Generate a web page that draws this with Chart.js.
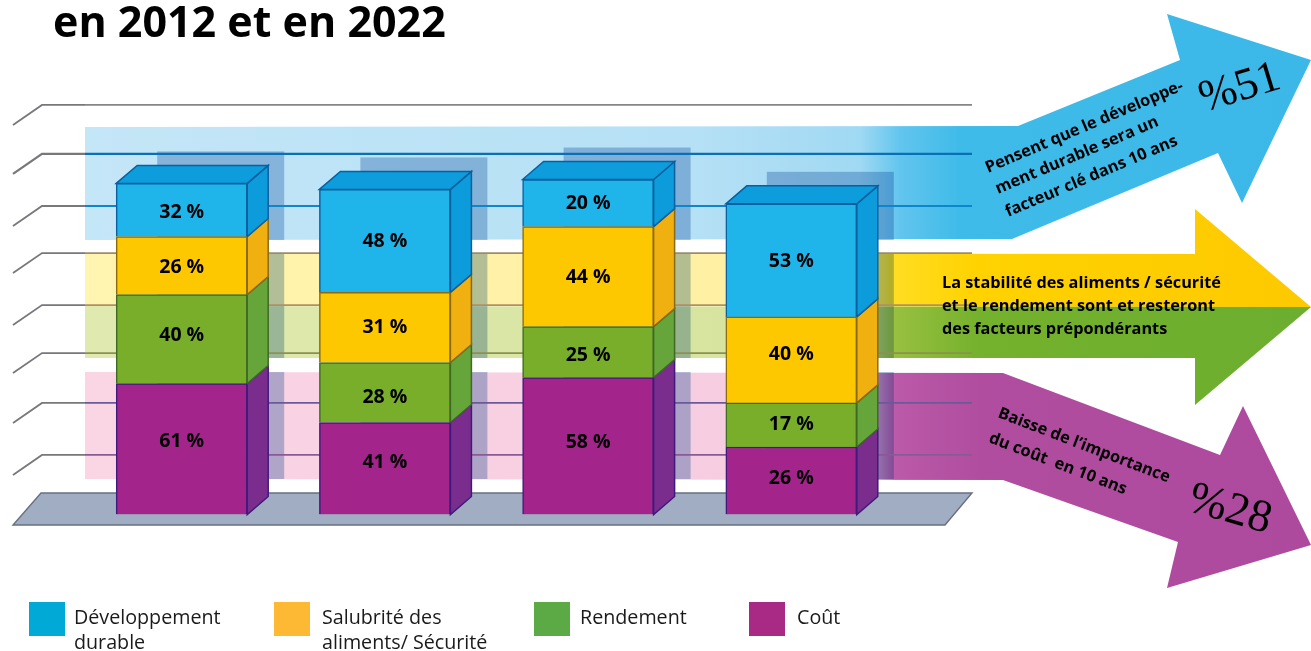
<!DOCTYPE html>
<html>
<head>
<meta charset="utf-8">
<style>
  html, body { margin: 0; padding: 0; background: #fff; overflow: hidden; }
  canvas { display: block; }
</style>
<script src="https://cdn.jsdelivr.net/npm/chart.js@4"></script>
</head>
<body>
<canvas id="chart" width="1311" height="651"></canvas>
<script>
var categories = ["A", "B", "C", "D"];

// printed percentages
var coutLabels = [61, 41, 58, 26];
var rendementLabels = [40, 28, 25, 17];
var salubriteLabels = [26, 31, 44, 40];
var durableLabels = [32, 48, 20, 53];

// segment heights as drawn in the picture (they don't follow the printed numbers exactly)
var coutHeights = [60.9, 42.8, 63.7, 31.4];
var rendementHeights = [41.4, 27.9, 23.7, 20.5];
var salubriteHeights = [27, 32.6, 46.5, 40];
var durableHeights = [24.7, 47.9, 21.9, 52.6];

var gridLevels = [27.7, 51.9, 75.1, 97.4, 121.6, 143.5, 167.7, 190.5];
var gridTints = ["#8a5a96", "#6a5a9a", "#8c9050", "#b09060", "#9a8c70", "#0d86cc", "#0b6fb4", "#85858a"];

var serieNames = ["Coût", "Rendement", "Salubrité des aliments/ Sécurité", "Développement durable"];

var sideColors = ["#7b2d8e", "#66a539", "#f0b010", "#0c9bdb"];
var FONT = '"Open Sans", sans-serif';
var DX = 21, DY = 18;

// the printed numbers are not quite centred in their segments
var labelNudge = [
  [-7.25, -6, -3.5, -2.5],
  [-4, 4.5, 3, -0.5],
  [2, -0.5, 0.5, -5.5],
  [2, 1, 0, 1]
];

function poly(ctx, pts) {
  ctx.beginPath();
  ctx.moveTo(pts[0][0], pts[0][1]);
  for (var i = 1; i < pts.length; i++) ctx.lineTo(pts[i][0], pts[i][1]);
  ctx.closePath();
}

function hGrad(ctx, stops) {
  var g = ctx.createLinearGradient(85, 0, 1311, 0);
  stops.forEach(function(s) { g.addColorStop((s[0] - 85) / 1226, s[1]); });
  return g;
}

function text(ctx, str, x, y, font, angle, color) {
  ctx.save();
  ctx.translate(x, y);
  ctx.rotate((angle || 0) * Math.PI / 180);
  ctx.font = font;
  ctx.fillStyle = color || "#000";
  ctx.textAlign = "left";
  ctx.textBaseline = "alphabetic";
  ctx.fillText(str, 0, 0);
  ctx.restore();
}

// pale bands, arrows, grid and floor behind the bars
var backdrop = {
  id: "backdrop",
  beforeDatasetsDraw: function(chart) {
    var ctx = chart.ctx, y = chart.scales.y;
    ctx.save();

    // blue arrow
    poly(ctx, [[85,127],[1018,126],[1180,60],[1167,14],[1311,60],[1242,203],[1218,153],[1012,239],[85,240]]);
    ctx.fillStyle = hGrad(ctx, [[85,"#c4e6f7"],[700,"#b5e0f5"],[860,"#a0d9f3"],[900,"#62c5ee"],[960,"#3fbbe9"],[1311,"#3bb8e8"]]);
    ctx.fill();

    // yellow / green arrow, split at the tip
    ctx.fillStyle = hGrad(ctx, [[85,"#fff4b0"],[860,"#fff0a0"],[895,"#ffdd22"],[980,"#ffd200"],[1311,"#fdc900"]]);
    poly(ctx, [[85,253],[1195,254],[1195,209],[1311,307],[85,306]]);
    ctx.fill();
    ctx.fillStyle = hGrad(ctx, [[85,"#e0eab0"],[860,"#d5e39c"],[895,"#98c040"],[980,"#74b12c"],[1311,"#6cae30"]]);
    poly(ctx, [[85,306],[1311,307],[1195,405],[1195,358],[85,358]]);
    ctx.fill();

    // purple arrow
    poly(ctx, [[85,372],[1003,373],[1220,455],[1243,406],[1311,545],[1167,588],[1178,542],[1003,480],[85,479]]);
    ctx.fillStyle = hGrad(ctx, [[85,"#fad6e4"],[860,"#f6cbe0"],[895,"#bb5aa8"],[980,"#b04d9f"],[1311,"#ad4a9e"]]);
    ctx.fill();

    // darker column behind each bar, only where a band runs
    var top = chart.getDatasetMeta(3).data;
    ctx.globalCompositeOperation = "multiply";
    ctx.fillStyle = "rgb(178,200,225)";
    top.forEach(function(bar) {
      var left = bar.x - bar.width / 2 + 41, colTop = bar.y - 32;
      [[127, 240], [253, 358], [372, 479]].forEach(function(b) {
        var t = Math.max(b[0], colTop);
        ctx.fillRect(left, t, 127, b[1] - t);
      });
    });
    ctx.globalCompositeOperation = "source-over";

    // grid lines, taken from the y scale
    y.ticks.forEach(function(tick, i) {
      var py = y.getPixelForValue(tick.value);
      ctx.lineWidth = i === 6 ? 2.2 : 1.8;
      ctx.strokeStyle = "#77777c";
      ctx.beginPath();
      ctx.moveTo(13, py + 20);
      ctx.lineTo(42, py);
      ctx.lineTo(85, py);
      ctx.stroke();
      ctx.strokeStyle = gridTints[i];
      ctx.beginPath();
      ctx.moveTo(85, py);
      ctx.lineTo(972, py);
      ctx.stroke();
    });

    // floor
    poly(ctx, [[41,493],[972,493],[945,525],[13,525]]);
    ctx.fillStyle = "#a0adc2";
    ctx.fill();
    ctx.strokeStyle = "#667080";
    ctx.lineWidth = 1.4;
    ctx.stroke();

    // side and top faces of the bars
    chart.data.datasets.forEach(function(ds, d) {
      chart.getDatasetMeta(d).data.forEach(function(bar) {
        var r = bar.x + bar.width / 2, l = bar.x - bar.width / 2;
        poly(ctx, [[r, bar.y], [r + DX, bar.y - DY], [r + DX, bar.base - DY], [r, bar.base]]);
        ctx.fillStyle = sideColors[d];
        ctx.fill();
        ctx.strokeStyle = ds.borderColor;
        ctx.lineWidth = 1.5;
        ctx.stroke();
        if (d === 3) {
          poly(ctx, [[l, bar.y], [l + DX, bar.y - DY], [r + DX, bar.y - DY], [r, bar.y]]);
          ctx.fillStyle = "#0d9ddc";
          ctx.fill();
          ctx.strokeStyle = "#0a5f9e";
          ctx.stroke();
        }
      });
    });
    ctx.restore();
  }
};

// percentages on the bars, plus all the loose text
var annotations = {
  id: "annotations",
  afterDatasetsDraw: function(chart) {
    var ctx = chart.ctx;
    var printed = [coutLabels, rendementLabels, salubriteLabels, durableLabels];
    ctx.save();
    printed.forEach(function(vals, d) {
      chart.getDatasetMeta(d).data.forEach(function(bar, i) {
        ctx.font = "bold 19.5px " + FONT;
        ctx.fillStyle = "#000";
        ctx.textAlign = "center";
        ctx.textBaseline = "middle";
        ctx.fillText(vals[i] + " %", bar.x, (bar.y + bar.base) / 2 + labelNudge[d][i]);
      });
    });
    ctx.restore();

    text(ctx, "en 2012 et en 2022", 53, 37, "bold 43px " + FONT);

    var b16 = "bold 16.3px " + FONT;
    text(ctx, "Pensent que le développe-", 988, 173, b16, -23);
    text(ctx, "ment durable sera un", 998, 194, b16, -23);
    text(ctx, "facteur clé dans 10 ans", 1008, 217, b16, -23);
    text(ctx, "%51", 1204, 112, '45px "Liberation Serif", serif', -17);

    text(ctx, "La stabilité des aliments / sécurité", 942, 288, b16);
    text(ctx, "et le rendement sont et resteront", 942, 311, b16);
    text(ctx, "des facteurs prépondérants", 942, 334, b16);

    text(ctx, "Baisse de l’importance", 997, 417, b16, 21);
    text(ctx, "du coût  en 10 ans", 988, 442, b16, 21);
    text(ctx, "%28", 1186, 510, '46px "Liberation Serif", serif', 16);

    // legend
    var leg = [
      [29, "#00a9d6", 74, ["Développement", "durable"]],
      [274, "#fdb933", 322, ["Salubrité des", "aliments/ Sécurité"]],
      [534, "#5baa46", 580, ["Rendement"]],
      [749, "#a92a85", 797, ["Coût"]]
    ];
    leg.forEach(function(it) {
      ctx.fillStyle = it[1];
      ctx.fillRect(it[0], 602, 36, 34);
      it[3].forEach(function(line, i) {
        text(ctx, line, it[2], 624 + i * 25, "19.7px " + FONT, 0, "#1a1a1a");
      });
    });
  }
};

new Chart(document.getElementById("chart").getContext("2d"), {
  type: "bar",
  data: {
    labels: categories,
    datasets: [
      { label: serieNames[0], data: coutHeights, backgroundColor: "#a3258c", borderColor: "#3f1a7c" },
      { label: serieNames[1], data: rendementHeights, backgroundColor: "#78ae2a", borderColor: "#3f6a25" },
      { label: serieNames[2], data: salubriteHeights, backgroundColor: "#fdc800", borderColor: "#8a6a10" },
      { label: serieNames[3], data: durableHeights, backgroundColor: "#1fb5ea", borderColor: "#0a5f9e" }
    ]
  },
  options: {
    responsive: false,
    animation: false,
    devicePixelRatio: 1,
    layout: { padding: { left: 80.1, right: 418.1, top: 84.5, bottom: 136.5 } },
    datasets: { bar: { barThickness: 131, borderWidth: 1.5 } },
    plugins: { legend: { display: false }, title: { display: false }, tooltip: { enabled: false } },
    scales: {
      x: { stacked: true, display: false },
      y: {
        stacked: true,
        min: 0,
        max: 200,
        display: false,
        afterBuildTicks: function(axis) {
          axis.ticks = gridLevels.map(function(v) { return { value: v }; });
        }
      }
    }
  },
  plugins: [backdrop, annotations]
});
</script>
</body>
</html>
